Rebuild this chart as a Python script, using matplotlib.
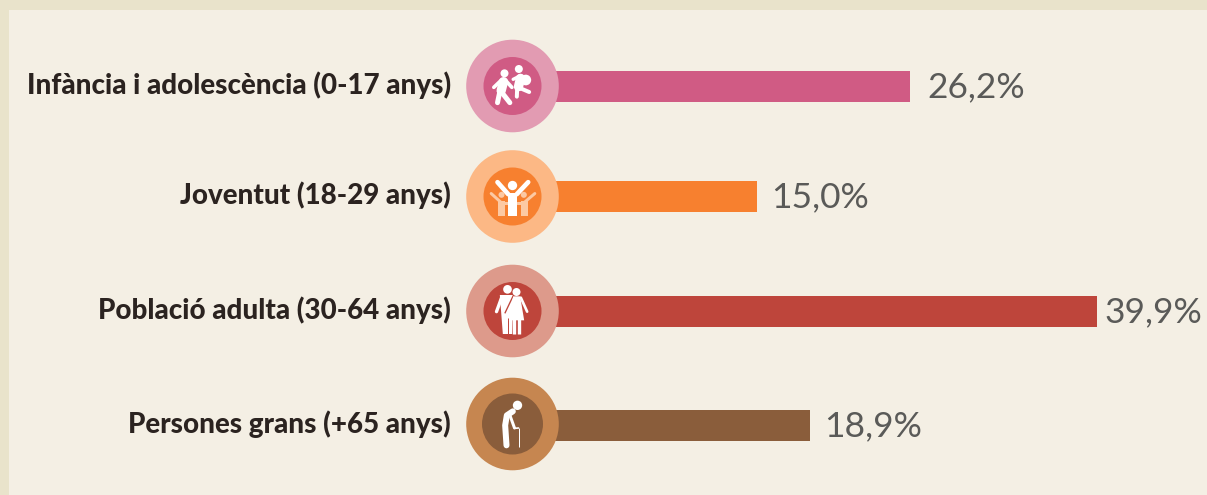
import matplotlib
matplotlib.use('Agg')
import matplotlib.pyplot as plt
from matplotlib.patches import Circle, Rectangle, Polygon

# data
groups = ['Infància i adolescència (0-17 anys)', 'Joventut (18-29 anys)',
          'Població adulta (30-64 anys)', 'Persones grans (+65 anys)']
shares = [26.2, 15.0, 39.9, 18.9]
share_labels = ['26,2%', '15,0%', '39,9%', '18,9%']

# layout, in pixels of the reference
W, H = 1207, 495
row_y = [86.5, 196.5, 311.5, 425.5]
circle_y = [86, 196.5, 311, 424]
circle_x = 512.5
label_gap = [18, 14, 8, 14]
inner_r = [29, 29, 29, 30.5]
bar_colors = ['#d05b84', '#f7802f', '#be453b', '#8a5d3b']
ring_colors = ['#e29bb2', '#fcb885', '#dd9a8b', '#c68650']
bar_x0 = 552
px_per_pct = 13.65

fig = plt.figure(figsize=(W / 100, H / 100), dpi=100, facecolor='#e9e3cb')

# pixel axes for the background, circles and icons
bg = fig.add_axes([0, 0, 1, 1], zorder=0)
bg.set_xlim(0, W)
bg.set_ylim(H, 0)
bg.axis('off')
bg.add_patch(Rectangle((9, 10), W, H, fc='#f4efe4', ec='none'))

# bars: x axis is the share in %
ax = fig.add_axes([bar_x0 / W, 0, 1 - bar_x0 / W, 1], zorder=1)
ax.set_xlim(0, (W - bar_x0) / px_per_pct)
ax.set_ylim(H, 0)
ax.axis('off')
ax.patch.set_alpha(0)
ax.barh(row_y, shares, height=31, color=bar_colors)
for i in range(4):
    xpix = bar_x0 + shares[i] * px_per_pct + label_gap[i]
    bg.text(xpix, row_y[i] + 1, share_labels[i], fontsize=25.5, family='Lato',
            fontweight='normal', color='#5a5a58', ha='left', va='center', zorder=5)

top = fig.add_axes([0, 0, 1, 1], zorder=2)
top.set_xlim(0, W)
top.set_ylim(H, 0)
top.axis('off')
top.patch.set_alpha(0)


def limb(cx, cy, c0, pts, w, col='white', cap='round'):
    # pts are in 3x zoom coords around c0
    xs = [cx + (p[0] - c0[0]) / 3 for p in pts]
    ys = [cy + (p[1] - c0[1]) / 3 for p in pts]
    top.plot(xs, ys, color=col, lw=w / 3 * 0.72, solid_capstyle=cap,
             solid_joinstyle='round', zorder=4)


def head(cx, cy, c0, p, r, col='white'):
    top.add_patch(Circle((cx + (p[0] - c0[0]) / 3, cy + (p[1] - c0[1]) / 3), r / 3,
                         fc=col, ec='none', zorder=4))


def shape(cx, cy, c0, pts, col='white'):
    top.add_patch(Polygon([(cx + (p[0] - c0[0]) / 3, cy + (p[1] - c0[1]) / 3) for p in pts],
                          fc=col, ec='none', zorder=4))


def icon_kids(cx, cy):
    c = (158, 168)
    head(cx, cy, c, (134, 130), 12)
    limb(cx, cy, c, [(131, 155), (124, 182)], 28)
    limb(cx, cy, c, [(125, 150), (102, 172)], 11)
    limb(cx, cy, c, [(136, 150), (156, 172)], 11)
    limb(cx, cy, c, [(120, 185), (113, 218)], 15)
    limb(cx, cy, c, [(128, 190), (150, 218)], 15)
    head(cx, cy, c, (177, 117), 12)
    limb(cx, cy, c, [(182, 145), (176, 170)], 28)
    limb(cx, cy, c, [(180, 138), (160, 148)], 10)
    head(cx, cy, c, (198, 150), 16)
    limb(cx, cy, c, [(172, 175), (171, 200)], 12)
    limb(cx, cy, c, [(182, 175), (208, 186)], 12)


def icon_youth(cx, cy):
    c = (158, 499)
    pale = '#fcc9a3'
    head(cx, cy, c, (125, 494), 9, pale)
    head(cx, cy, c, (192, 494), 9, pale)
    limb(cx, cy, c, [(125, 518), (94, 490)], 9, pale)
    limb(cx, cy, c, [(125, 518), (150, 518)], 9, pale)
    limb(cx, cy, c, [(192, 518), (225, 490)], 9, pale)
    limb(cx, cy, c, [(192, 518), (170, 518)], 9, pale)
    shape(cx, cy, c, [(115, 512), (136, 512), (136, 556), (115, 556)], pale)
    shape(cx, cy, c, [(182, 512), (204, 512), (204, 556), (182, 556)], pale)
    head(cx, cy, c, (158, 466), 14)
    limb(cx, cy, c, [(145, 492), (113, 456)], 14)
    limb(cx, cy, c, [(171, 492), (205, 456)], 14)
    shape(cx, cy, c, [(145, 488), (172, 488), (172, 556), (145, 556)])


def icon_adults(cx, cy):
    c = (158, 168)
    head(cx, cy, c, (143, 103), 13)
    shape(cx, cy, c, [(120, 120), (160, 120), (157, 237), (129, 237)])
    limb(cx, cy, c, [(126, 126), (110, 170)], 10)
    limb(cx, cy, c, [(143, 190), (143, 237)], 3, bar_colors[2], 'butt')
    limb(cx, cy, c, [(165, 112), (135, 175)], 4, bar_colors[2], 'butt')
    head(cx, cy, c, (170, 111), 12)
    shape(cx, cy, c, [(160, 124), (181, 124), (193, 196), (147, 196)])
    limb(cx, cy, c, [(183, 128), (202, 170)], 8)
    limb(cx, cy, c, [(163, 190), (163, 236)], 10, 'white', 'butt')
    limb(cx, cy, c, [(177, 190), (177, 236)], 10, 'white', 'butt')


def icon_elder(cx, cy):
    c = (157, 506)
    head(cx, cy, c, (172, 450), 14)
    limb(cx, cy, c, [(158, 468), (140, 480), (135, 510), (137, 540), (139, 570)], 18)
    limb(cx, cy, c, [(150, 482), (163, 518)], 9)
    limb(cx, cy, c, [(175, 518), (175, 576)], 3, 'white', 'butt')
    limb(cx, cy, c, [(163, 519), (175, 518)], 5)


icons = [icon_kids, icon_youth, icon_adults, icon_elder]

for i in range(4):
    top.add_patch(Circle((circle_x, circle_y[i]), 46.3, fc=ring_colors[i], ec='none', zorder=2))
    top.add_patch(Circle((circle_x, circle_y[i]), inner_r[i], fc=bar_colors[i], ec='none', zorder=3))
    icons[i](circle_x, circle_y[i])
    top.text(451, row_y[i] - 1.5, groups[i], fontsize=20, family='Lato', fontweight='black',
             color='#2b2320', ha='right', va='center', zorder=5)

fig.savefig('out.png', dpi=100, facecolor=fig.get_facecolor())
